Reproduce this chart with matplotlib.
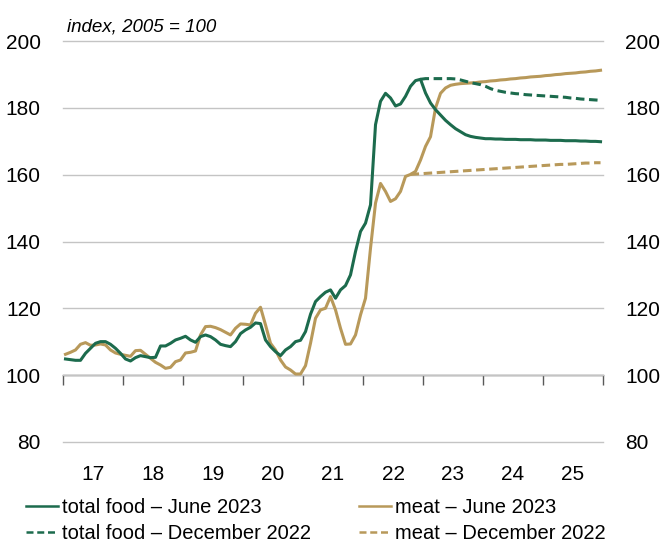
import numpy as np
import matplotlib
matplotlib.use("Agg")
import matplotlib.pyplot as plt

plt.rcParams['font.family'] = ['Liberation Sans', 'DejaVu Sans']

# monthly, Jan 2017 .. Dec 2025
total_food_jun23 = [
    104.8, 104.6, 104.4, 104.4, 106.5, 108.0, 109.5, 110.0, 110.0, 109.2, 108.0, 106.5,
    104.8, 104.2, 105.2, 105.8, 105.5, 105.2, 105.3, 108.7, 108.7, 109.5, 110.5, 111.0,
    111.6, 110.5, 109.8, 111.5, 112.0, 111.5, 110.5, 109.2, 108.8, 108.5, 110.0, 112.4,
    113.5, 114.3, 115.6, 115.4, 110.5, 108.5, 107.0, 105.8, 107.5, 108.5, 110.0, 110.4,
    113.0, 118.2, 122.0, 123.5, 124.8, 125.5, 123.0, 125.5, 126.8, 130.0, 137.0, 143.0,
    145.5, 151.0, 175.0, 182.0, 184.4, 183.0, 180.6, 181.2, 183.5, 186.5, 188.2, 188.6,
    184.5, 181.5, 179.5, 177.9, 176.3, 175.0, 173.8, 172.9, 172.0, 171.5, 171.2, 171.0,
    170.8, 170.8, 170.7, 170.7, 170.6, 170.6, 170.6, 170.5, 170.5, 170.5, 170.4, 170.4,
    170.4, 170.3, 170.3, 170.3, 170.2, 170.2, 170.2, 170.1, 170.1, 170.0, 170.0, 169.9,
]
meat_jun23 = [
    106.2, 106.8, 107.5, 109.2, 109.7, 108.9, 109.0, 109.3, 109.0, 107.5, 106.6, 106.2,
    105.9, 105.6, 107.3, 107.4, 106.2, 105.0, 103.8, 103.0, 102.0, 102.3, 104.0, 104.5,
    106.6, 106.8, 107.2, 112.0, 114.5, 114.6, 114.2, 113.6, 112.8, 112.0, 114.0, 115.3,
    115.2, 115.0, 118.5, 120.3, 115.0, 109.5, 107.5, 104.5, 102.4, 101.5, 100.3, 100.3,
    102.8, 109.5, 117.0, 119.5, 120.0, 123.5, 119.5, 114.0, 109.2, 109.3, 112.0, 118.0,
    123.0, 138.0, 151.5, 157.4, 155.0, 152.0, 152.8, 155.0, 159.5, 160.1, 161.0, 164.4,
    168.5, 171.4, 180.0, 184.4, 186.0, 186.8, 187.1, 187.3, 187.4, 187.5, 187.6, 187.8,
    187.9, 188.1, 188.2, 188.4, 188.5, 188.7, 188.8, 189.0, 189.1, 189.3, 189.4, 189.5,
    189.7, 189.8, 190.0, 190.1, 190.3, 190.4, 190.5, 190.7, 190.8, 191.0, 191.1, 191.3,
]
# December 2022 forecasts, Dec 2022 .. Dec 2025 (total food), Oct 2022 .. Dec 2025 (meat)
total_food_dec22 = [
    188.6, 188.8, 188.8, 188.8, 188.8, 188.8, 188.8, 188.7, 188.4, 188.0, 187.6, 187.3,
    187.0, 186.5, 185.8, 185.3, 185.0, 184.7, 184.5, 184.3, 184.2, 184.0, 183.9, 183.8,
    183.7, 183.6, 183.5, 183.4, 183.3, 183.2, 183.0, 182.9, 182.7, 182.6, 182.5, 182.4,
    182.3,
]
meat_dec22 = [
    160.1, 160.2, 160.3, 160.4, 160.5, 160.6, 160.7, 160.8, 160.9, 161.0, 161.1, 161.2,
    161.3, 161.4, 161.5, 161.6, 161.7, 161.8, 161.9, 162.0, 162.1, 162.2, 162.3, 162.4,
    162.5, 162.6, 162.7, 162.8, 162.9, 163.0, 163.1, 163.1, 163.2, 163.3, 163.4, 163.5,
    163.5, 163.6, 163.6,
]
year_labels = ['17', '18', '19', '20', '21', '22', '23', '24', '25']

green = '#1c6b4d'
gold = '#b8995a'
dash = (0, (2.8, 1.5))

months = 2017 + (np.arange(len(total_food_jun23)) + 0.5) / 12
t_food_fc = months[-len(total_food_dec22):]
t_meat_fc = months[-len(meat_dec22):]

fig = plt.figure(figsize=(6.61, 5.52), dpi=100)
ax = fig.add_axes([0.0953, 0.1985, 0.817, 0.728])

ax.plot(months, meat_jun23, color=gold, lw=2.2, label='meat – June 2023', zorder=3)
ax.plot(months, total_food_jun23, color=green, lw=2.2, label='total food – June 2023', zorder=4)
ax.plot(t_food_fc, total_food_dec22, color=green, lw=2.2, ls=dash,
        label='total food – December 2022', zorder=4)
ax.plot(t_meat_fc, meat_dec22, color=gold, lw=2.2, ls=dash,
        label='meat – December 2022', zorder=3)

ax.set_xlim(2017, 2026)
ax.set_ylim(79.8, 200.2)
ax.set_yticks([80, 100, 120, 140, 160, 180, 200])
ax.grid(axis='y', color='#c4c4c4', lw=1)
for gl in ax.get_ygridlines():
    gl.set_clip_on(False)
ax.set_axisbelow(True)
for s in ax.spines.values():
    s.set_visible(False)

ax.tick_params(axis='y', length=0, labelsize=15, labelleft=True, labelright=True, pad=16)
years = np.arange(2017, 2026)
ax.set_xticks(years + 0.5)
ax.set_xticklabels(year_labels)
ax.tick_params(axis='x', length=0, labelsize=15, pad=16)

# axis line with tick marks at the 100 level
sec = ax.secondary_xaxis((100 - 79.8) / 120.4)
sec.set_xticks(np.arange(2017, 2027))
sec.tick_params(axis='x', direction='out', length=7, width=1, color='#595959', labelbottom=False)
sec.spines['bottom'].set_color('#595959')
sec.spines['bottom'].set_linewidth(1)

ax.text(0.008, 1.012, 'index, 2005 = 100', transform=ax.transAxes, style='italic',
        fontsize=13.5, va='bottom', ha='left')

h, l = ax.get_legend_handles_labels()
order = [1, 2, 0, 3]
leg = fig.legend([h[i] for i in order], [l[i] for i in order], ncol=2, loc='lower left',
                 bbox_to_anchor=(0.021, -0.005), frameon=False, fontsize=14.5,
                 handlelength=1.6, handletextpad=0.2, columnspacing=2.35, labelspacing=0.35,
                 borderaxespad=0.2)
for ln in leg.get_lines():
    ln.set_linewidth(1.8)

fig.savefig('out.png', dpi=100)
